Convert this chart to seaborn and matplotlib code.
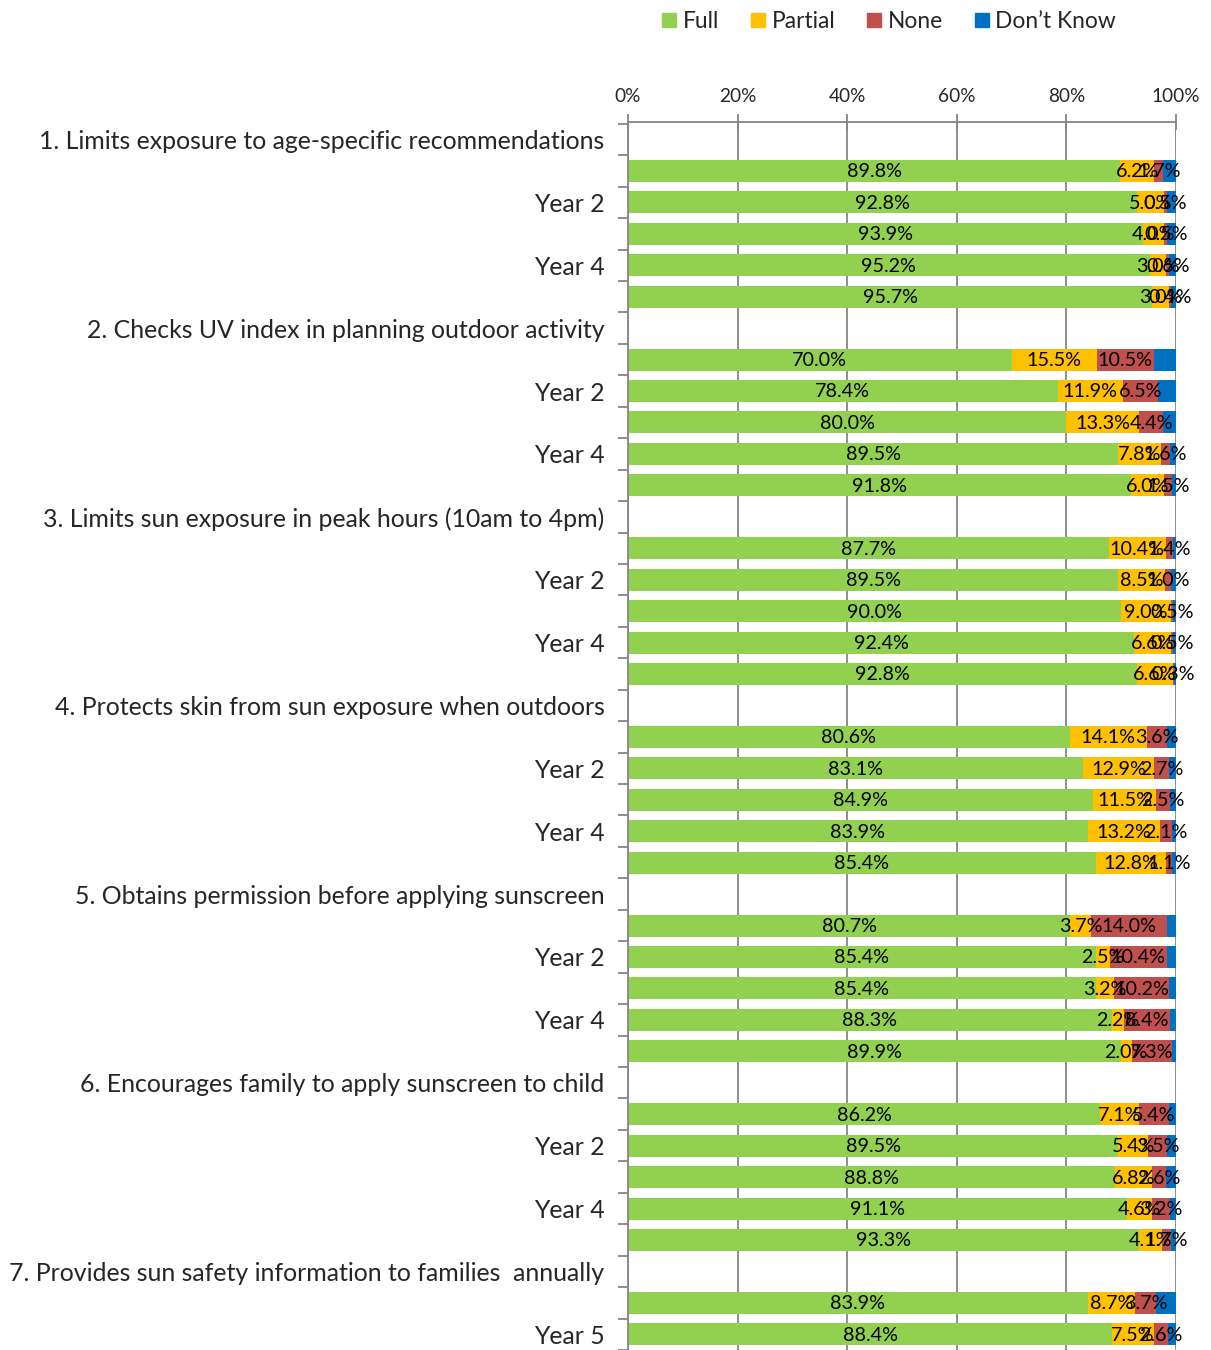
import numpy as np
import pandas as pd
import matplotlib
matplotlib.use("Agg")
import matplotlib.pyplot as plt
from matplotlib.lines import Line2D
import seaborn as sns

# ---- data (percent of respondents) ----
questions = [
    "1. Limits exposure to age-specific recommendations",
    "2. Checks UV index in planning outdoor activity",
    "3. Limits sun exposure in peak hours (10am to 4pm)",
    "4. Protects skin from sun exposure when outdoors",
    "5. Obtains permission before applying sunscreen",
    "6. Encourages family to apply sunscreen to child",
    "7. Provides sun safety information to families  annually",
]
year_labels = [
    ["Year 1", "Year 2", "Year 3", "Year 4", "Year 5"],
    ["Year 1", "Year 2", "Year 3", "Year 4", "Year 5"],
    ["Year 1", "Year 2", "Year 3", "Year 4", "Year 5"],
    ["Year 1", "Year 2", "Year 3", "Year 4", "Year 5"],
    ["Year 1", "Year 2", "Year 3", "Year 4", "Year 5"],
    ["Year 1", "Year 2", "Year 3", "Year 4", "Year 5"],
    ["Year 4", "Year 5"],
]
full = [89.8, 92.8, 93.9, 95.2, 95.7,
        70.0, 78.4, 80.0, 89.5, 91.8,
        87.7, 89.5, 90.0, 92.4, 92.8,
        80.6, 83.1, 84.9, 83.9, 85.4,
        80.7, 85.4, 85.4, 88.3, 89.9,
        86.2, 89.5, 88.8, 91.1, 93.3,
        83.9, 88.4]
partial = [6.2, 5.0, 4.0, 3.0, 3.0,
           15.5, 11.9, 13.3, 7.8, 6.0,
           10.4, 8.5, 9.0, 6.6, 6.6,
           14.1, 12.9, 11.5, 13.2, 12.8,
           3.7, 2.5, 3.2, 2.2, 2.0,
           7.1, 5.4, 6.8, 4.6, 4.1,
           8.7, 7.5]
none = [1.7, 0.5, 0.5, 0.6, 0.4,
        10.5, 6.5, 4.4, 1.6, 1.5,
        1.4, 1.0, 0.5, 0.5, 0.3,
        3.6, 2.7, 2.5, 2.1, 1.1,
        14.0, 10.4, 10.2, 8.4, 7.3,
        5.4, 3.5, 2.6, 3.2, 1.7,
        3.7, 2.6]
dont_know = [2.3, 1.7, 1.6, 1.2, 0.9,
             4.0, 3.2, 2.3, 1.1, 0.7,
             0.5, 1.0, 0.5, 0.5, 0.3,
             1.7, 1.3, 1.1, 0.8, 0.7,
             1.6, 1.7, 1.2, 1.1, 0.8,
             1.3, 1.6, 1.8, 1.1, 0.9,
             3.7, 1.5]

series = ["Full", "Partial", "None", "Don\u2019t Know"]
colors = ["#92D050", "#FFC000", "#C0504D", "#0070C0"]

# ---- build row order: a header row per question, then one row per year ----
rows, row_text, bar_rows = [], [], []
for qi, (q, yrs) in enumerate(zip(questions, year_labels)):
    rows.append(f"q{qi}")
    row_text.append(q)
    for y in yrs:
        key = f"q{qi} {y}"
        rows.append(key)
        row_text.append(y)
        bar_rows.append(key)

df = pd.DataFrame({"row": bar_rows, series[0]: full, series[1]: partial,
                   series[2]: none, series[3]: dont_know})
cum = df[series].cumsum(axis=1)
cum["row"] = df["row"]

sns.set_theme(style="white")
plt.rcParams["font.family"] = ["Lato", "DejaVu Sans"]

fig = plt.figure(figsize=(12.11, 13.5), dpi=100)
ax = fig.add_axes([628 / 1211, 0, 548 / 1211, 1228 / 1350])

# stacked bars: draw cumulative totals from the right-most series backwards
for s, c in zip(series[::-1], colors[::-1]):
    sns.barplot(data=cum, x=s, y="row", order=rows, color=c, saturation=1,
                width=0.7, errorbar=None, orient="h", ax=ax, zorder=2,
                linewidth=0)

# value labels (not shown for Don't Know)
pos = {r: i for i, r in enumerate(rows)}
for s in series[:3]:
    left = cum[s] - df[s]
    for r, l, v in zip(df["row"], left, df[s]):
        ax.text(l + v / 2, pos[r] + 0.03, f"{v:.1f}%", ha="center", va="center",
                fontsize=14.2, color="black", zorder=3)

ax.set_xlim(0, 100)
ax.set_ylim(len(rows) - 1 + 0.43, -0.556)
ax.set_xlabel("")
ax.set_ylabel("")

ax.xaxis.tick_top()
ax.set_xticks(np.arange(0, 101, 20))
ax.set_xticklabels([f"{t}%" for t in range(0, 101, 20)], fontsize=13.7)
ax.tick_params(axis="x", direction="inout", length=12, width=1.3,
               color="#868686", pad=6)
ax.grid(axis="x", color="#868686", lw=1.3)
ax.grid(axis="y", visible=False)
ax.set_axisbelow(True)

ax.set_yticks(range(len(rows)))
ax.set_yticklabels([t if i % 2 == 0 else "" for i, t in enumerate(row_text)],
                   fontsize=17.9)
ax.set_yticks(np.arange(len(rows) + 1) - 0.5, minor=True)
ax.tick_params(axis="y", which="major", length=0, pad=17)
ax.tick_params(axis="y", which="minor", direction="out", length=7,
               width=1.3, color="#868686", left=True)

for side in ["right", "bottom"]:
    ax.spines[side].set_visible(False)
for side in ["top", "left"]:
    ax.spines[side].set_color("#868686")
    ax.spines[side].set_linewidth(1.3)

handles = [Line2D([], [], marker="s", ls="", markersize=10.5, color=c)
           for c in colors]
fig.legend(handles, series, loc="center", bbox_to_anchor=(887 / 1211, 1 - 21 / 1350),
           ncol=4, frameon=False, fontsize=16.4, handletextpad=0.1,
           columnspacing=1.2, handlelength=1.0)

fig.savefig("out.png", dpi=100)
